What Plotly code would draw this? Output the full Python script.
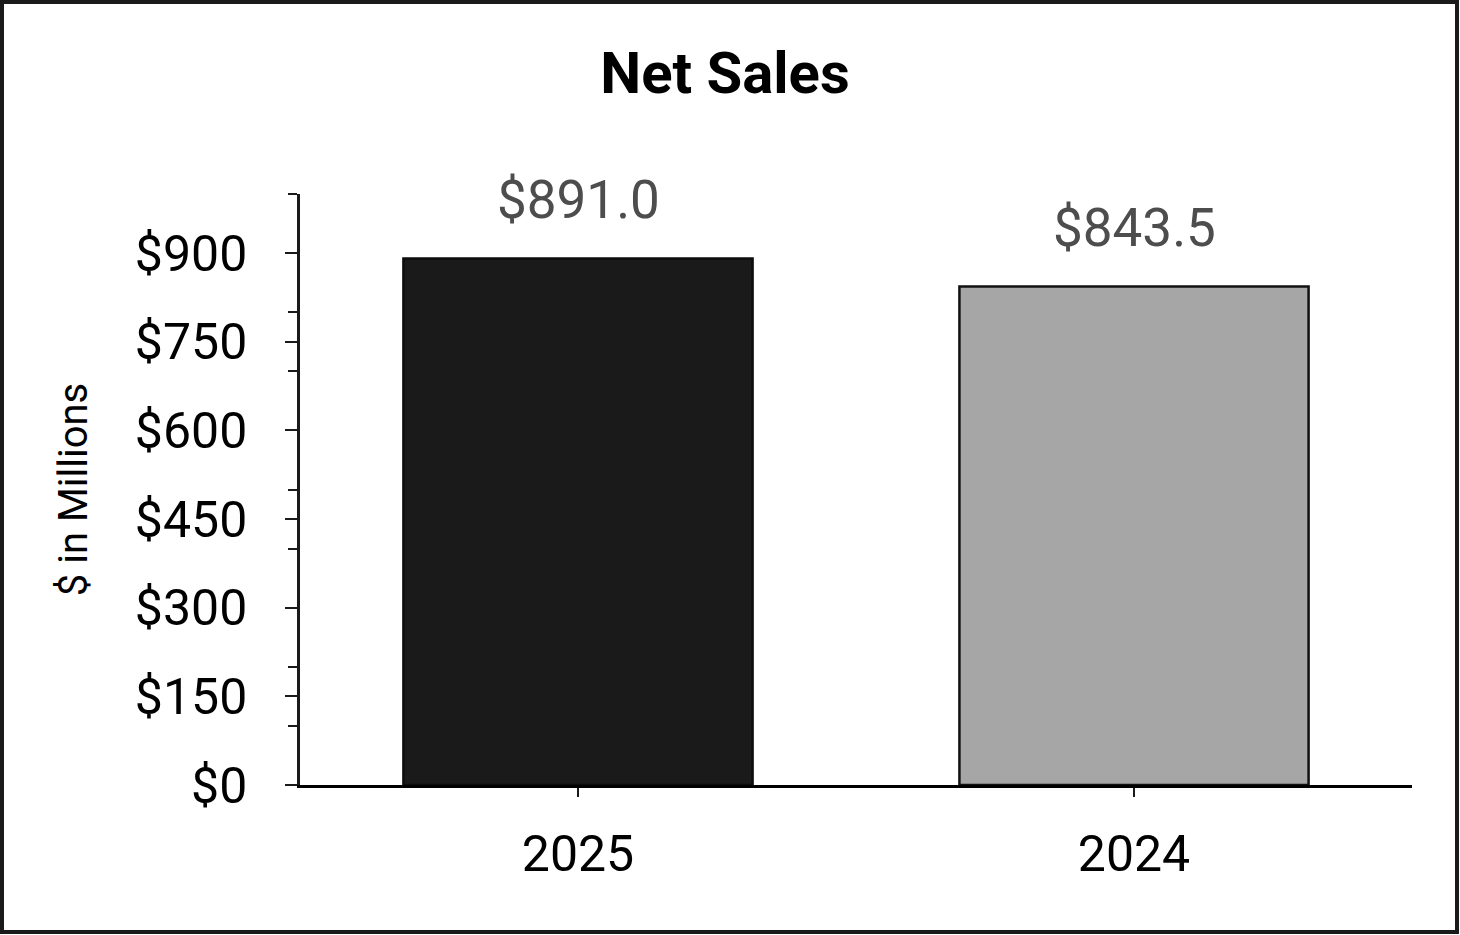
import plotly.graph_objects as go

categories = ["2025", "2024"]
values = [891.0, 843.5]
bar_colors = ["#1a1a1a", "#a6a6a6"]
line_colors = ["#0d0d0d", "#111111"]
tick_vals = [0, 150, 300, 450, 600, 750, 900]
tick_text = ["$0", "$150", "$300", "$450", "$600", "$750", "$900"]
title_text = "Net Sales"
y_title = "$ in Millions"

W, H = 1460, 935
L, R, T, B = 300, 48, 194, 150
pw, ph = W - L - R, H - T - B

fig = go.Figure()
fig.add_trace(go.Bar(
    x=categories, y=values, width=0.628,
    marker=dict(color=bar_colors, line=dict(color=line_colors, width=2.5)),
    hoverinfo="skip",
))

# category positions by index on the category axis
for i, v in enumerate(values):
    fig.add_annotation(x=i, y=v, text=f"${v:,.1f}", showarrow=False,
                       yanchor="bottom", yshift=25,
                       font=dict(family="Roboto", size=53, color="#4d4d4d"))

fig.update_layout(
    width=W, height=H,
    margin=dict(l=L, r=R, t=T, b=B),
    paper_bgcolor="white", plot_bgcolor="white",
    showlegend=False,
    font=dict(family="Roboto", color="#000000"),
    title=dict(text=f"<b>{title_text}</b>", x=725 / W, xanchor="center",
               y=1 - 73 / H, yanchor="middle",
               font=dict(family="Roboto", size=58, color="#000000")),
    xaxis=dict(
        type="category", categoryorder="array", categoryarray=categories,
        range=[-0.5, len(categories) - 0.5],
        showline=True, linecolor="#000000", linewidth=2.5,
        ticks="outside", ticklen=9, tickwidth=2, tickcolor="#1a1a1a",
        ticklabelstandoff=14,
        tickfont=dict(family="Roboto", size=50, color="#000000"),
        showgrid=False, zeroline=False,
    ),
    yaxis=dict(
        range=[0, 1000],
        showline=True, linecolor="#1a1a1a", linewidth=2.5,
        tickmode="array", tickvals=tick_vals, ticktext=tick_text,
        ticks="outside", ticklen=12, tickwidth=2, tickcolor="#1a1a1a",
        ticklabelstandoff=28,
        minor=dict(tickmode="linear", tick0=0, dtick=100, ticks="outside",
                   ticklen=9, tickwidth=2, tickcolor="#1a1a1a", showgrid=False),
        tickfont=dict(family="Roboto", size=50, color="#000000"),
        showgrid=False, zeroline=False,
        title=dict(text=y_title, font=dict(family="Roboto", size=40, color="#000000"),
                   standoff=35),
    ),
    bargap=0.372,
)

# outer border around the whole figure
fig.add_shape(type="rect", xref="paper", yref="paper",
              x0=(2 - L) / pw, x1=(1457 - L) / pw,
              y0=(H - 932 - B) / ph, y1=(H - 2 - B) / ph,
              line=dict(color="#1a1a1a", width=4), fillcolor="rgba(0,0,0,0)",
              layer="above")

fig.write_html("out.html", config={"displayModeBar": False},
               post_script="document.body.style.margin='0';document.body.style.overflow='hidden';")
